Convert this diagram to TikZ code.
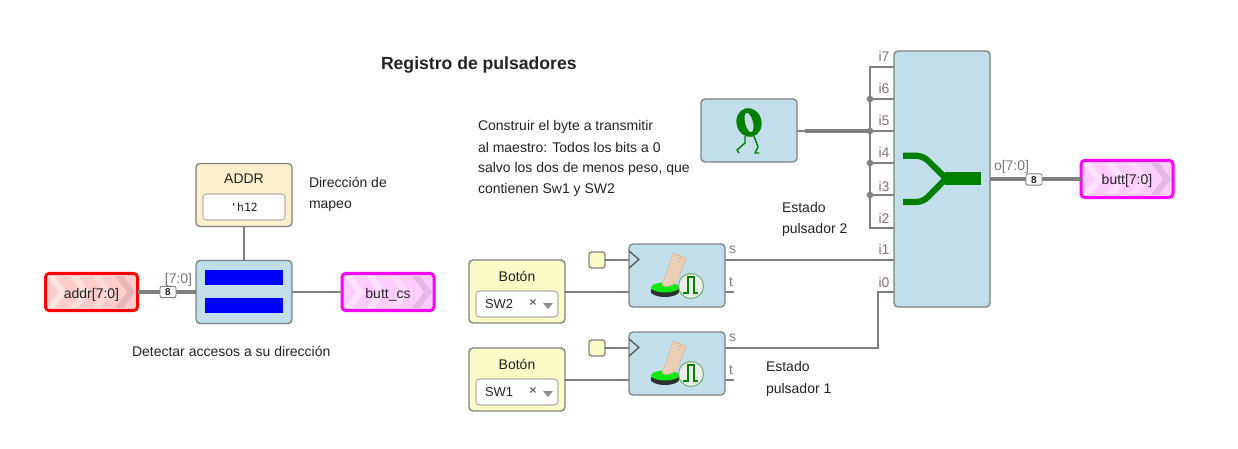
\documentclass[tikz,border=0pt]{standalone}
\usepackage{fontspec}
\setmainfont{Liberation Sans}
\setmonofont{DejaVu Sans Mono}
\definecolor{blk}{HTML}{C1DEEA}
\definecolor{lne}{HTML}{808080}
\definecolor{yel}{HTML}{FBFBC8}
\definecolor{bei}{HTML}{FBF0CB}
\definecolor{txt}{HTML}{222222}
\definecolor{lab}{HTML}{777777}
\definecolor{grn}{HTML}{007F00}
\definecolor{mag}{HTML}{FF00FF}
\definecolor{magf}{HTML}{FFCCFF}
\definecolor{rd}{HTML}{FF0000}
\definecolor{rdf}{HTML}{FFCCCC}
\definecolor{bl}{HTML}{0000FF}
\definecolor{btn}{HTML}{10E810}
\definecolor{btnd}{HTML}{2E2E2E}
\definecolor{skin}{HTML}{EBCFB5}
\definecolor{skind}{HTML}{C9AE96}
\newcommand{\chevshape}[3]{\fill[#2,fill opacity=#3] (#1,-16) -- ++(8,0) -- ++(12,16) -- ++(-12,16) -- ++(-8,0) -- ++(12,-16) -- cycle;}
\tikzset{
  x=0.75pt,y=-0.75pt,
  every node/.style={font=\fontsize{10.5pt}{12pt}\selectfont,text=txt,inner sep=0pt,outer sep=0pt,text height=7.5pt,text depth=0pt},
  box/.style={draw=lne,line width=1pt,rounded corners=3pt,minimum width=72pt,minimum height=47.25pt},
  blkbox/.style={box,fill=blk},
  inbox/.style={box,fill=yel},
  field/.style={draw=black!30,fill=white,line width=.8pt,rounded corners=2.5pt,minimum width=61.5pt,minimum height=19.5pt,text height=6.2pt},
  pinbox/.style={draw=#1,line width=2.25pt,rounded corners=3pt,minimum width=69pt,minimum height=28pt},
  wire/.style={draw=lne,line width=1.4pt},
  bus/.style={draw=lne,line width=3.6pt},
  widthlab/.style={draw=lne,fill=white,line width=.7pt,rounded corners=1.5pt,minimum width=12pt,minimum height=8.5pt,text height=5.4pt,font=\fontsize{7.5pt}{8pt}\selectfont\bfseries},
  pinlab/.style={text=lab},
  note/.style={anchor=west},
  dot/.style={circle,fill=lne,minimum size=5pt,text height=0pt},
  clkbox/.style={draw=lne,line width=1pt,fill=yel,rounded corners=2pt,minimum size=12pt},
  bar/.style={fill=bl,minimum width=58.5pt,minimum height=11.25pt},
  xmark/.style={text=black!60,text height=5pt,font=\fontsize{9pt}{10pt}\selectfont\bfseries},
  swlab/.style={note,text height=7pt,font=\fontsize{9.75pt}{11pt}\selectfont},
}
\newcommand{\chevrons}[1]{%
  \begin{scope}[shift={#1}]
    \chevshape{3}{white}{.45}
    \chevshape{25.7}{white}{.4}
    \chevshape{48.4}{white}{.3}
    \chevshape{71.1}{black}{.1}
  \end{scope}}
\newcommand{\pressicon}[1]{%
  \begin{scope}[shift={#1}]
    \fill[btnd] (36,47) ellipse[x radius=14.5,y radius=6];
    \fill[btn] (36,43.5) ellipse[x radius=14,y radius=5];
    \fill[skin,draw=skind,line width=.3pt] (33,41) -- (44.3,9.3) -- (57.7,14.3) -- (47.7,37.7) .. controls (44,42) and (37,44) .. (33,41) -- cycle;
    \draw[draw=skind,line width=.4pt] (48,11) -- (52,12.5) (49,14) -- (53,15.5) (48,17) -- (51,18);
    \draw[draw=green!45!black!60,fill=black!7,line width=.7pt] (62,42) circle[radius=12.5];
    \draw[grn,line width=1pt] (54,49) -- (59,49) -- (59,33) -- (65,33) -- (65,49) -- (69,49);
  \end{scope}}
\begin{document}
\begin{tikzpicture}
\useasboundingbox (0,0) rectangle (1238,449);
% Title and notes
\node[note,text height=9.3pt,font=\fontsize{13.2pt}{15pt}\selectfont\bfseries] (title) at (381,63) {Registro de pulsadores};
\node[note] (n1) at (478,126) {Construir el byte a transmitir};
\node[note] (n2) at (478,147) {al maestro: Todos los bits a 0};
\node[note] (n3) at (478,168) {salvo los dos de menos peso, que};
\node[note] (n4) at (478,189) {contienen Sw1 y SW2};
\node[note] (n5) at (309,183) {Dirección de};
\node[note] (n6) at (309,204) {mapeo};
\node[note] (n7) at (132,351) {Detectar accesos a su dirección};
\node[note] (n8) at (782,207) {Estado};
\node[note] (n9) at (782,228) {pulsador 2};
\node[note] (n10) at (766,366) {Estado};
\node[note] (n11) at (766,388) {pulsador 1};

% Left part
\node[pinbox=rd,fill=rdf] (addr) at (91.5,292) {};
\chevrons{(44,292)}
\node (addrname) at (91.5,293) {addr[7:0]};
\node[box,fill=bei] (const) at (244,195) {};
\node (constname) at (244,179) {ADDR};
\node[field] (constval) at (244,207) {\ttfamily\fontsize{8.5pt}{10pt}\selectfont 'h12};
\node[blkbox] (cmp) at (244,292) {};
\node[bar] (bar1) at (244,277.5) {};
\node[bar] (bar2) at (244,305.5) {};
\node[pinbox=mag,fill=magf] (cs) at (388,292) {};
\chevrons{(341,292)}
\node (csname) at (388,293) {butt\_cs};
\draw[wire] (const.south) -- (cmp.north);
\draw[bus] (addr.east) -- (cmp.west);
\draw[wire] (cmp.east) -- (cs.west);
\node[widthlab] (w1) at (168,292) {8};
\node[pinlab] (r1) at (178.5,278) {[7:0]};

% Buttons
\node[inbox] (b2) at (517,291.5) {};
\node (b2name) at (517,276) {Botón};
\node[field] (b2f) at (517,304) {};
\node[swlab] (b2t) at (485,304) {SW2};
\node[xmark] (b2x) at (533,303.5) {×};
\fill[black!45] (543,303) -- (553,303) -- (548,309) -- cycle;
\node[inbox] (b1) at (517,379.5) {};
\node (b1name) at (517,364) {Botón};
\node[field] (b1f) at (517,392) {};
\node[swlab] (b1t) at (485,392) {SW1};
\node[xmark] (b1x) at (533,391.5) {×};
\fill[black!45] (543,391) -- (553,391) -- (548,397) -- cycle;

\node[blkbox] (p2) at (677,275.5) {};
\node[blkbox] (p1) at (677,363.5) {};
\node[clkbox] (c2) at (597,260) {};
\node[clkbox] (c1) at (597,348) {};
\coordinate (c2in) at (629,260);
\coordinate (c1in) at (629,348);
\draw[wire] (c2.east) -- (c2in);
\draw[wire] (c1.east) -- (c1in);
\draw[draw=lne!70!black,line width=1pt] (629,251) -- (639,259.5) -- (629,268);
\draw[draw=lne!70!black,line width=1pt] (629,339) -- (639,347.5) -- (629,356);
\pressicon{(629,244)}
\pressicon{(629,332)}
\coordinate (t2) at (629,292);
\coordinate (t1) at (629,380);
\draw[wire] (b2.east |- t2) -- (t2);
\draw[wire] (b1.east |- t1) -- (t1);

% Mux
\node[blkbox,minimum height=192pt] (mux) at (942,179) {};
\coordinate (i7) at (894,67);
\coordinate (i6) at (894,99);
\coordinate (i5) at (894,131);
\coordinate (i4) at (894,163);
\coordinate (i3) at (894,195);
\coordinate (i2) at (894,228);
\coordinate (i1) at (894,260);
\coordinate (i0) at (894,292);
\coordinate (trunk) at (870,131);
\node[blkbox] (zero) at (749,130.5) {};
\fill[grn,even odd rule,rotate around={14:(749,122.5)}] (749,122.5) ellipse[x radius=12.5,y radius=14.5] (749,122.5) ellipse[x radius=4,y radius=10];
\draw[grn,line width=1.1pt,line join=round] (745,136) -- (745,143) -- (737,150) -- (739,153);
\draw[grn,line width=1.1pt,line join=round] (754,136) -- (758,147) -- (755,153) -- (759,153);
% bus tree
\draw[wire] (i7) -- (i7 -| trunk) -- (i2 -| trunk) -- (i2);
\draw[wire] (i6) -- (i6 -| trunk);
\draw[wire] (i5) -- (i5 -| trunk);
\draw[wire] (i4) -- (i4 -| trunk);
\draw[wire] (i3) -- (i3 -| trunk);
\draw[draw=lne,line width=2pt] (i6 -| trunk) -- (i3 -| trunk);
\draw[wire] (zero.east |- i5) -- ++(9,0);
\draw[draw=lne,line width=2.5pt] (805,131) -- (trunk);
\node[dot] (d6) at (i6 -| trunk) {};
\node[dot] (d5) at (i5 -| trunk) {};
\node[dot] (d4) at (i4 -| trunk) {};
\node[dot] (d3) at (i3 -| trunk) {};
\draw[wire] (p2.east |- i1) -- (i1);
\coordinate (s1) at (p1.east |- 0,348);
\coordinate (elbow) at (878,348);
\draw[wire] (s1) -- (elbow) -- (elbow |- i0) -- (i0);
\draw[wire] (725,292) -- ++(9,0);
\draw[wire] (725,380) -- ++(9,0);
% Merge symbol
\draw[grn,line width=4.6pt,rounded corners=5pt] (903,155.7) -- (923,155.7) -- (946,178.5);
\draw[grn,line width=4.6pt,rounded corners=5pt] (903,202) -- (923,202) -- (946,178.5);
\fill[grn] (945,172) rectangle (981,185);
% Output
\node[pinbox=mag,fill=magf] (out) at (1127,179) {};
\chevrons{(1080,179)}
\node (outname) at (1127,180) {butt[7:0]};
\draw[bus] (mux.east) -- (out.west);
\node[widthlab] (w2) at (1034,179.5) {8};
% Pin labels
\node[pinlab] (li7) at (884,57) {i7};
\node[pinlab] (li6) at (884,89) {i6};
\node[pinlab] (li5) at (884,121) {i5};
\node[pinlab] (li4) at (884,152) {i4};
\node[pinlab] (li3) at (884,186) {i3};
\node[pinlab] (li2) at (884,218) {i2};
\node[pinlab] (li1) at (884,249) {i1};
\node[pinlab] (li0) at (884,282) {i0};
\node[pinlab,anchor=west] (lo) at (994,166) {o[7:0]};
\node[pinlab,anchor=west] (ls2) at (729,248) {s};
\node[pinlab,anchor=west] (lt2) at (729,281) {t};
\node[pinlab,anchor=west] (ls1) at (729,336) {s};
\node[pinlab,anchor=west] (lt1) at (729,369) {t};
\end{tikzpicture}
\end{document}
